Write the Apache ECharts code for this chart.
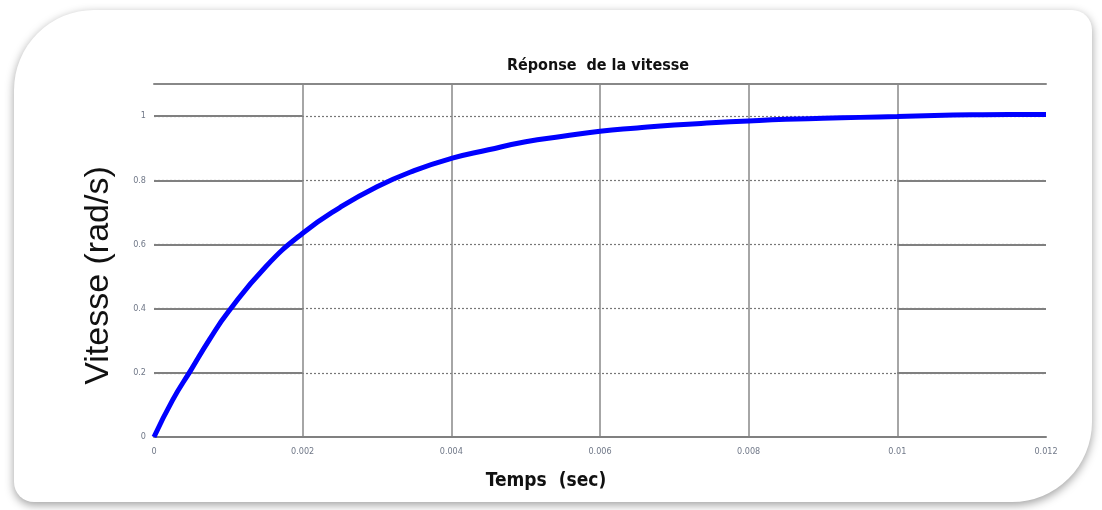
<!DOCTYPE html>
<html><head><meta charset="utf-8">
<script src="https://cdn.jsdelivr.net/npm/echarts@6/dist/echarts.min.js"></script>
<style>html,body{margin:0;padding:0;background:#fff;}#c{width:1102px;height:510px;}</style>
</head><body><div id="c"></div>
<script>
const titleText = 'Réponse  de la vitesse';
const xName = 'Temps  (sec)';
const yName = 'Vitesse (rad/s)';
const xTicks = [0, 0.002, 0.004, 0.006, 0.008, 0.01, 0.012];
const xTickLabels = ['0', '0.002', '0.004', '0.006', '0.008', '0.01', '0.012'];
const yTicks = [0, 0.2, 0.4, 0.6, 0.8, 1];
const yTickLabels = ['0', '0.2', '0.4', '0.6', '0.8', '1'];
const timeValues = [0, 0.00025, 0.0005, 0.00075, 0.001, 0.0015, 0.002, 0.0025, 0.003, 0.0035, 0.004, 0.0045, 0.005, 0.0055, 0.006, 0.0065, 0.007, 0.0075, 0.008, 0.0085, 0.009, 0.0095, 0.01, 0.0105, 0.011, 0.0115, 0.012];
const speedValues = [0, 0.115, 0.21, 0.305, 0.39, 0.53, 0.635, 0.715, 0.78, 0.83, 0.868, 0.895, 0.92, 0.937, 0.953, 0.963, 0.972, 0.979, 0.985, 0.99, 0.993, 0.996, 0.999, 1.002, 1.004, 1.005, 1.005];

const narrow = "'Liberation Sans Narrow','DejaVu Sans Condensed','Arial Narrow',sans-serif";
const chart = echarts.init(document.getElementById('c'), null, {renderer: 'canvas'});

const solidSegments = [];
yTicks.forEach(v => {
  solidSegments.push([{coord: [xTicks[0], v]}, {coord: [xTicks[1], v]}]);
  solidSegments.push([{coord: [xTicks[5], v]}, {coord: [xTicks[6], v]}]);
});

function fmt(list, labels) {
  return function (val) {
    for (let i = 0; i < list.length; i++) if (Math.abs(list[i] - val) < 1e-9) return labels[i];
    return '';
  };
}

chart.setOption({
  animation: false,
  backgroundColor: '#ffffff',
  graphic: [{
    type: 'rect', z: -10, silent: true,
    shape: {x: 14, y: 10, width: 1078, height: 492, r: [80, 20, 80, 20]},
    style: {fill: '#ffffff', shadowBlur: 10, shadowColor: 'rgba(0,0,0,0.38)', shadowOffsetX: 0, shadowOffsetY: 3}
  }],
  title: {
    text: titleText, left: 593, top: 53, textAlign: 'center',
    textStyle: {fontFamily: narrow, fontSize: 16, fontWeight: 'bold', color: '#111'}
  },
  grid: {left: 154, right: 56, top: 84, bottom: 73},
  xAxis: [{
    type: 'value', min: 0, max: 0.012, interval: 0.002,
    name: xName, nameLocation: 'middle', nameGap: 35,
    nameTextStyle: {fontFamily: narrow, fontSize: 19, fontWeight: 'bold', color: '#111', padding: [0, 108, 0, 0]},
    axisLine: {show: true, lineStyle: {color: '#808080', width: 2}},
    axisTick: {show: false},
    axisLabel: {formatter: fmt(xTicks, xTickLabels), fontFamily: narrow, fontSize: 9, color: '#707888', margin: 10},
    splitLine: {show: true, showMinLine: false, showMaxLine: false, lineStyle: {color: '#888888', width: 1.5, type: 'solid'}}
  }, {
    type: 'value', position: 'top', min: 0, max: 0.012,
    axisLine: {show: true, lineStyle: {color: '#888888', width: 2}},
    axisTick: {show: false}, axisLabel: {show: false}, splitLine: {show: false}
  }],
  yAxis: {
    type: 'value', min: 0, max: 1.1, interval: 0.2,
    name: yName, nameLocation: 'middle', nameGap: 38, nameRotate: 90,
    nameTextStyle: {fontFamily: "'Liberation Sans','DejaVu Sans',sans-serif", fontSize: 34, color: '#111', padding: [0, 30, 0, 0]},
    axisLine: {show: false}, axisTick: {show: false},
    axisLabel: {formatter: fmt(yTicks, yTickLabels), fontFamily: narrow, fontSize: 9, color: '#707888', margin: 8},
    splitLine: {show: true, showMinLine: false, showMaxLine: false, lineStyle: {color: '#777777', width: 1.2, type: [2, 2]}}
  },
  series: [{
    type: 'line', z: 5,
    data: timeValues.map((t, i) => [t, speedValues[i]]),
    smooth: true, showSymbol: false,
    lineStyle: {color: '#0000ff', width: 5},
    markLine: {
      silent: true, symbol: 'none', label: {show: false}, z: 1,
      lineStyle: {color: '#808080', width: 2, type: 'solid'},
      data: solidSegments
    }
  }]
});
</script></body></html>
